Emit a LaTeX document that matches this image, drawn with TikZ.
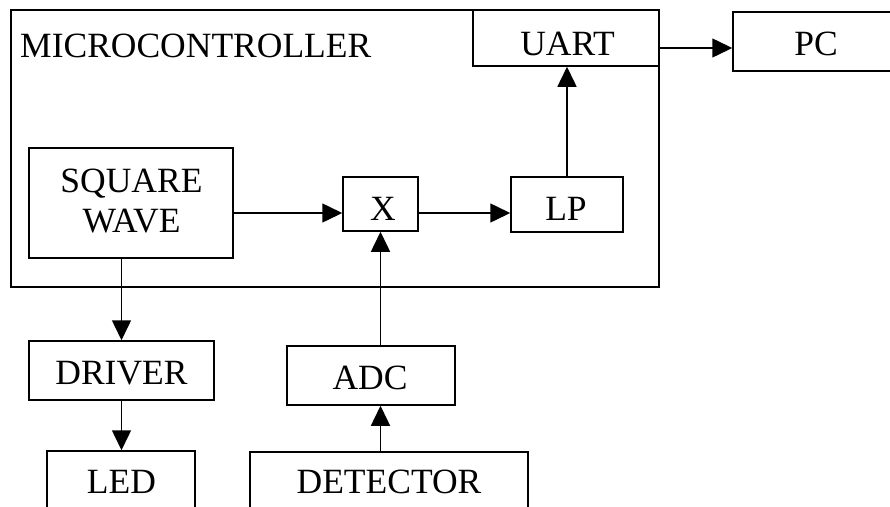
\documentclass[tikz,border=0pt]{standalone}
\usepackage{fontspec}
\setmainfont{Liberation Serif}
\usetikzlibrary{arrows.meta}
\tikzset{
  box/.style={draw=black, line width=1.5pt, rectangle, inner sep=0pt, fill=none},
  txt/.style={inner sep=0pt, anchor=base, font=\fontsize{35.5}{40}\selectfont, align=center},
  arr/.style={draw=black, line width=1.5pt, -{Triangle[length=20pt,width=19pt]}}
}
\begin{document}
\begin{tikzpicture}[x=1pt,y=-1pt]
\useasboundingbox (0,0) rectangle (890,506);
\fill[white] (0,0) rectangle (890,506);
\clip (0,0) rectangle (890,506);
% boxes
\node[box, minimum width=648pt, minimum height=277pt] (mc) at (335,148.5) {};
\node[box, minimum width=186pt, minimum height=56pt] (uart) at (566,38) {};
\node[box, minimum width=168pt, minimum height=59pt] (pc) at (817,41.5) {};
\node[box, minimum width=204pt, minimum height=110pt] (sw) at (131,203) {};
\node[box, minimum width=75pt, minimum height=54pt] (mul) at (380.5,204) {};
\node[box, minimum width=112pt, minimum height=55pt] (lp) at (567,204.5) {};
\node[box, minimum width=185pt, minimum height=59pt] (drv) at (121.5,370.5) {};
\node[box, minimum width=168pt, minimum height=59pt] (adc) at (371,375.5) {};
\node[box, minimum width=148pt, minimum height=62pt] (led) at (121,482) {};
\node[box, minimum width=278pt, minimum height=62pt] (det) at (389,483) {};
% texts
\node[txt, anchor=base west] (mclabel) at (20,57) {MICROCONTROLLER};
\node[txt] (uartlabel) at (567.5,55) {UART};
\node[txt] (pclabel) at (816,55) {PC};
\node[txt] (swlabel1) at (131.5,192) {SQUARE};
\node[txt] (swlabel2) at (131.5,232) {WAVE};
\node[txt] (mullabel) at (383,220) {X};
\node[txt] (lplabel) at (566,220) {LP};
\node[txt] (drvlabel) at (121.5,384) {DRIVER};
\node[txt] (adclabel) at (370,389) {ADC};
\node[txt] (ledlabel) at (121.5,493) {LED};
\node[txt] (detlabel) at (389,493) {DETECTOR};
% connectors
\draw[arr] ([yshift=-10pt]sw.east) -- ([yshift=-10pt]sw.east -| mul.west);
\draw[arr] ([yshift=-9pt]mul.east) -- ([yshift=-9pt]mul.east -| lp.west);
\draw[arr] (lp.north) -- (lp.north |- uart.south);
\draw[arr] ([yshift=-10pt]uart.east) -- ([yshift=-10pt]uart.east -| pc.west);
\draw[arr] (drv.north |- sw.south) -- (drv.north);
\draw[arr] (drv.south) -- (drv.south |- led.north);
\draw[arr] (mul.south |- adc.north) -- (mul.south);
\draw[arr] (mul.south |- det.north) -- (mul.south |- adc.south);
\end{tikzpicture}
\end{document}
